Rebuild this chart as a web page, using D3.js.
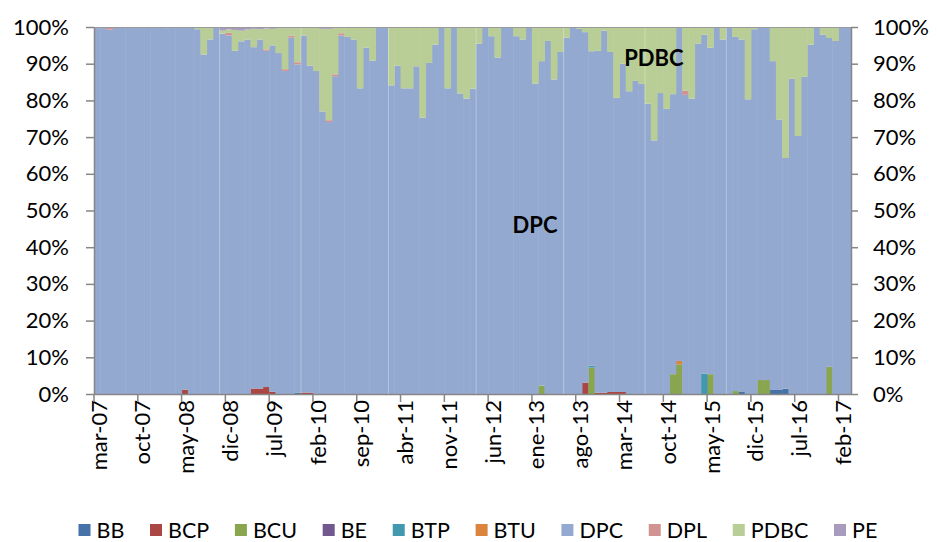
<!DOCTYPE html>
<html>
<head>
<meta charset="utf-8">
<script src="https://cdn.jsdelivr.net/npm/d3@7"></script>
<style>
body { margin: 0; background: #fff; }
text { font-family: Lato, 'Open Sans', sans-serif; fill: #000; }
</style>
</head>
<body>
<div id="chart"></div>
<script>
// monthly categories mar-07 .. mar-17
var monthNames = ['ene', 'feb', 'mar', 'abr', 'may', 'jun', 'jul', 'ago', 'sep', 'oct', 'nov', 'dic'];
var months = [];
for (var k = 0; k < 121; k++) {
    var mm = (2 + k) % 12,
        yy = 7 + Math.floor((2 + k) / 12);
    months.push(monthNames[mm] + '-' + (yy < 10 ? '0' + yy : yy));
}

var keys = ['BB', 'BCP', 'BCU', 'BE', 'BTP', 'BTU', 'DPC', 'DPL', 'PDBC', 'PE'];
var colors = ['#4572A7', '#AA4643', '#89A54E', '#71588F', '#4198AF', '#DB843D', '#94A9D0', '#D19392', '#B9CD96', '#A99BBD'];

// share of each series (%), one value per month
var BB = [
    0, 0, 0, 0, 0, 0, 0, 0, 0, 0,
    0, 0, 0, 0, 0, 0, 0, 0, 0, 0,
    0, 0, 0, 0, 0, 0, 0, 0, 0, 0,
    0, 0, 0.4, 0, 0, 0, 0, 0, 0, 0,
    0, 0, 0, 0, 0, 0, 0, 0, 0, 0,
    0, 0, 0, 0, 0, 0, 0, 0, 0, 0,
    0, 0, 0, 0, 0, 0, 0, 0, 0, 0,
    0, 0, 0, 0, 0, 0, 0, 0, 0, 0,
    0, 0, 0, 0, 0, 0, 0, 0, 0, 0,
    0, 0, 0, 0, 0, 0, 0, 0, 0, 0,
    0, 0, 0, 0.55, 0, 0, 0, 0, 1.1, 1.1,
    1.45, 0, 0, 0, 0, 0, 0, 0, 0, 0,
    0
];
var BCP = [
    0, 0, 0, 0, 0, 0, 0, 0, 0, 0,
    0, 0, 0, 0, 1.2, 0, 0, 0, 0, 0,
    0, 0, 0, 0, 0, 1.5, 1.5, 1.9, 0.6, 0,
    0, 0, 0, 0.4, 0.4, 0, 0, 0, 0, 0,
    0, 0, 0, 0, 0, 0, 0, 0, 0, 0,
    0, 0, 0, 0, 0, 0, 0, 0, 0, 0,
    0, 0, 0, 0, 0, 0, 0, 0, 0, 0,
    0, 0, 0, 0, 0, 0, 0, 0, 3.1, 0,
    0.35, 0.35, 0.55, 0.55, 0.55, 0, 0, 0, 0, 0,
    0, 0, 0, 0, 0, 0, 0, 0, 0, 0,
    0, 0, 0, 0, 0, 0, 0, 0, 0, 0,
    0, 0, 0, 0, 0, 0, 0, 0, 0, 0,
    0
];
var BCU = [
    0, 0, 0, 0, 0, 0, 0, 0, 0, 0,
    0, 0, 0, 0, 0, 0, 0, 0, 0, 0,
    0, 0, 0, 0, 0, 0, 0, 0, 0, 0,
    0, 0, 0, 0, 0, 0, 0, 0, 0, 0,
    0, 0, 0, 0, 0, 0, 0, 0, 0, 0,
    0, 0, 0, 0, 0, 0, 0, 0, 0, 0,
    0, 0, 0, 0, 0, 0, 0, 0, 0, 0,
    0, 2.3, 0, 0, 0, 0, 0, 0, 0, 7.2,
    0, 0, 0, 0, 0, 0, 0, 0, 0, 0,
    0, 0, 5.4, 8.1, 0, 0, 0, 0, 5.4, 0,
    0, 0, 0.8, 0, 0, 0, 3.8, 3.8, 0, 0,
    0, 0, 0, 0, 0, 0, 0, 7.4, 0, 0,
    0
];
var BE = [
    0, 0, 0, 0, 0, 0, 0, 0, 0, 0,
    0, 0, 0, 0, 0, 0, 0, 0, 0, 0,
    0, 0, 0, 0, 0, 0, 0, 0, 0, 0,
    0, 0, 0, 0, 0, 0, 0, 0, 0, 0,
    0, 0, 0, 0, 0, 0, 0, 0, 0, 0,
    0, 0, 0, 0, 0, 0, 0, 0, 0, 0,
    0, 0, 0, 0, 0, 0, 0, 0, 0, 0,
    0, 0, 0, 0, 0, 0, 0, 0, 0, 0,
    0, 0, 0, 0, 0, 0, 0, 0, 0, 0,
    0, 0, 0, 0, 0, 0, 0, 0, 0, 0,
    0, 0, 0, 0, 0, 0, 0, 0, 0, 0,
    0, 0, 0, 0, 0, 0, 0, 0, 0, 0,
    0
];
var BTP = [
    0, 0, 0, 0, 0, 0, 0, 0, 0, 0,
    0, 0, 0, 0, 0, 0, 0, 0, 0, 0,
    0, 0, 0, 0, 0, 0, 0, 0, 0, 0,
    0, 0, 0, 0, 0, 0, 0, 0, 0, 0,
    0, 0, 0, 0, 0, 0, 0, 0, 0, 0,
    0, 0, 0, 0, 0, 0, 0, 0, 0, 0,
    0, 0, 0, 0, 0, 0, 0, 0, 0, 0,
    0, 0, 0, 0, 0, 0, 0, 0, 0, 0.5,
    0, 0, 0, 0, 0, 0, 0, 0, 0, 0,
    0, 0, 0, 0, 0, 0, 0, 5.6, 0, 0,
    0, 0, 0, 0, 0, 0, 0, 0, 0, 0,
    0, 0, 0, 0, 0, 0, 0, 0, 0, 0,
    0
];
var BTU = [
    0, 0, 0, 0, 0, 0, 0, 0, 0, 0,
    0, 0, 0, 0, 0, 0, 0, 0, 0, 0,
    0, 0, 0, 0, 0, 0, 0, 0, 0, 0,
    0, 0, 0, 0, 0, 0, 0, 0, 0, 0,
    0, 0, 0, 0, 0, 0, 0, 0, 0, 0,
    0, 0, 0, 0, 0, 0, 0, 0, 0, 0,
    0, 0, 0, 0, 0, 0, 0, 0, 0, 0,
    0, 0, 0, 0, 0, 0, 0, 0, 0, 0,
    0, 0, 0, 0, 0, 0, 0, 0, 0, 0,
    0, 0, 0, 0.9, 0, 0, 0, 0, 0, 0,
    0, 0, 0, 0, 0, 0, 0, 0, 0, 0,
    0, 0, 0, 0, 0, 0, 0, 0, 0, 0,
    0
];
var DPC = [
    99.7, 99.7, 99.3, 100, 100, 100, 100, 100, 100, 100,
    100, 99.7, 100, 100, 98.8, 100, 99.4, 92.5, 96.6, 100,
    98.2, 97.7, 93.5, 96.1, 96.6, 93.0, 95.1, 91.6, 94.4, 92.9,
    88.0, 97.1, 89.4, 97.3, 89.1, 88.0, 77.0, 74.1, 86.6, 97.7,
    97.3, 96.6, 83.3, 94.4, 90.8, 100, 100, 84.1, 89.5, 83.3,
    83.3, 89.3, 75.3, 90.2, 95.2, 100, 83.3, 100, 81.9, 80.5,
    83.2, 95.5, 100, 97.5, 91.7, 100, 100, 97.5, 96.6, 100,
    84.6, 88.4, 96.2, 85.7, 93.2, 97.1, 100, 99.5, 95.5, 85.7,
    93.15, 98.65, 92.65, 80.15, 89.45, 82.5, 85.3, 84.5, 79.1, 69.1,
    82.0, 77.7, 76.3, 91.0, 81.5, 80.5, 95.5, 92.3, 89.0, 100,
    96.6, 100, 96.5, 96.05, 80.3, 99.4, 96.2, 96.2, 89.6, 73.7,
    62.85, 85.9, 70.3, 86.4, 95.2, 100, 97.9, 89.6, 96.2, 100,
    100
];
var DPL = [
    0, 0, 0.7, 0, 0, 0, 0, 0, 0, 0,
    0, 0.3, 0, 0, 0, 0, 0, 0, 0, 0,
    0, 0.7, 0, 0, 0, 0, 0, 0.4, 0, 0,
    0.5, 0.5, 0.6, 0, 0, 0, 0, 0.5, 0.5, 0.6,
    0, 0, 0, 0, 0, 0, 0, 0, 0, 0,
    0, 0, 0, 0, 0, 0, 0, 0, 0, 0,
    0, 0, 0, 0, 0, 0, 0, 0, 0, 0,
    0, 0, 0, 0, 0, 0, 0, 0, 0, 0,
    0, 0, 0, 0, 0, 0, 0, 0, 0, 0,
    0, 0, 0, 0, 1.1, 0, 0, 0, 0, 0,
    0, 0, 0, 0, 0, 0, 0, 0, 0, 0,
    0, 0, 0, 0, 0, 0, 0, 0, 0, 0,
    0
];
var PDBC = [
    0, 0, 0, 0, 0, 0, 0, 0, 0, 0,
    0, 0, 0, 0, 0, 0, 0.6, 7.5, 3.4, 0,
    0.8, 1.0, 5.7, 2.9, 2.7, 5.0, 2.8, 5.7, 4.5, 6.8,
    11.2, 2.1, 9.3, 2.3, 10.5, 12.0, 22.5, 24.9, 12.9, 1.7,
    2.7, 3.4, 16.7, 5.6, 9.2, 0, 0, 15.9, 10.5, 16.7,
    16.7, 10.7, 24.7, 9.8, 4.8, 0, 16.7, 0, 18.1, 19.5,
    16.8, 4.5, 0, 2.5, 8.3, 0, 0, 2.5, 3.4, 0,
    15.4, 9.3, 3.8, 14.3, 6.8, 2.9, 0, 0.5, 1.4, 6.6,
    6.5, 1.0, 6.8, 19.3, 10.0, 17.5, 14.7, 15.5, 20.9, 30.9,
    18.0, 22.3, 18.3, 0, 17.4, 19.5, 4.5, 2.1, 5.6, 0,
    3.4, 0, 2.7, 3.4, 19.7, 0.6, 0, 0, 9.3, 25.2,
    35.7, 14.1, 29.7, 13.6, 4.8, 0, 2.1, 3.0, 3.8, 0,
    0
];
var PE = [
    0.3, 0.3, 0, 0, 0, 0, 0, 0, 0, 0,
    0, 0, 0, 0, 0, 0, 0, 0, 0, 0,
    1.0, 0.6, 0.8, 1.0, 0.7, 0.5, 0.6, 0.4, 0.5, 0.3,
    0.3, 0.3, 0.3, 0, 0, 0, 0.5, 0.5, 0, 0,
    0, 0, 0, 0, 0, 0, 0, 0, 0, 0,
    0, 0, 0, 0, 0, 0, 0, 0, 0, 0,
    0, 0, 0, 0, 0, 0, 0, 0, 0, 0,
    0, 0, 0, 0, 0, 0, 0, 0, 0, 0,
    0, 0, 0, 0, 0, 0, 0, 0, 0, 0,
    0, 0, 0, 0, 0, 0, 0, 0, 0, 0,
    0, 0, 0, 0, 0, 0, 0, 0, 0, 0,
    0, 0, 0, 0, 0, 0, 0, 0, 0, 0,
    0
];

var yTicks = [0, 0.1, 0.2, 0.3, 0.4, 0.5, 0.6, 0.7, 0.8, 0.9, 1];
// months where a thin light seam shows between the bars
var seamMonths = ['nov-08', 'dic-09', 'feb-11', 'abr-12', 'jun-13', 'jul-14', 'ago-15'];

var seriesData = [BB, BCP, BCU, BE, BTP, BTU, DPC, DPL, PDBC, PE];

var svgWidth = 937,
    svgHeight = 542,
    plotLeft = 94,
    plotRight = 851,
    plotTop = 27,
    plotBottom = 394;

var rows = months.map(function(m, i) {
    var r = { month: m };
    keys.forEach(function(k, j) { r[k] = seriesData[j][i]; });
    return r;
});

var stacked = d3.stack().keys(keys).offset(d3.stackOffsetExpand)(rows);

var x = d3.scaleBand().domain(months).range([plotLeft, plotRight]).padding(0),
    y = d3.scaleLinear().domain([0, 1]).range([plotBottom, plotTop]),
    color = d3.scaleOrdinal().domain(keys).range(colors);

var svg = d3.select('#chart')
    .append('svg')
    .attr('width', svgWidth)
    .attr('height', svgHeight);

// bars
svg.append('g')
    .selectAll('g')
    .data(stacked)
    .enter()
    .append('g')
    .attr('fill', function(d) { return color(d.key); })
    .selectAll('rect')
    .data(function(d) { return d.filter(function(p) { return p[1] - p[0] > 0; }); })
    .enter()
    .append('rect')
    .attr('x', function(d) { return x(d.data.month); })
    .attr('width', x.bandwidth() + 0.5)
    .attr('y', function(d) { return y(d[1]); })
    .attr('height', function(d) { return y(d[0]) - y(d[1]); });

// light seams
svg.append('g')
    .selectAll('line')
    .data(seamMonths)
    .enter()
    .append('line')
    .attr('x1', function(d) { return x(d) + 0.5; })
    .attr('x2', function(d) { return x(d) + 0.5; })
    .attr('y1', plotTop)
    .attr('y2', plotBottom)
    .attr('stroke', '#fff')
    .attr('stroke-opacity', 0.3)
    .attr('stroke-width', 1);

// top border
svg.append('line')
    .attr('x1', plotLeft).attr('x2', plotRight)
    .attr('y1', plotTop + 0.5).attr('y2', plotTop + 0.5)
    .attr('stroke', '#9a9a9a');

// y axes
var pct = d3.format('.0%');

var yLeft = svg.append('g')
    .attr('transform', 'translate(' + plotLeft + ',0)')
    .call(d3.axisLeft(y).tickValues(yTicks).tickFormat(pct).tickSize(8).tickSizeOuter(0).tickPadding(17));

var yRight = svg.append('g')
    .attr('transform', 'translate(' + plotRight + ',0)')
    .call(d3.axisRight(y).tickValues(yTicks).tickFormat(pct).tickSize(7).tickSizeOuter(0).tickPadding(15));

[yLeft, yRight].forEach(function(a) {
    a.selectAll('path, line').attr('stroke', '#868686').attr('stroke-width', 1.5);
    a.selectAll('text').style('font-size', '22px').style('font-family', 'Lato, sans-serif');
});

// x axis
var labelled = months.filter(function(d, i) { return i % 7 === 0; });

var xAxis = svg.append('g')
    .attr('transform', 'translate(0,' + plotBottom + ')')
    .call(d3.axisBottom(x).tickValues(labelled).tickSize(0).tickSizeOuter(0).tickPadding(0));

xAxis.select('path').attr('stroke', '#868686').attr('stroke-width', 1.5);

xAxis.selectAll('.tick text')
    .style('font-size', '22px')
    .style('font-family', 'Lato, sans-serif')
    .attr('text-anchor', 'end')
    .attr('transform', 'translate(1.5,6) rotate(-90)')
    .attr('x', 0)
    .attr('y', 0)
    .attr('dy', '0.36em');

xAxis.selectAll('.tickmark')
    .data(labelled)
    .enter()
    .append('line')
    .attr('class', 'tickmark')
    .attr('x1', function(d) { return x(d); })
    .attr('x2', function(d) { return x(d); })
    .attr('y1', 0)
    .attr('y2', 8)
    .attr('stroke', '#868686')
    .attr('stroke-width', 1.5);

// in-chart labels
svg.append('text')
    .attr('x', x('ene-13') + x.bandwidth() / 2)
    .attr('y', y(0.46))
    .attr('dy', '0.36em')
    .attr('text-anchor', 'middle')
    .style('font-size', '22px')
    .style('font-weight', 'bold')
    .text('DPC');

svg.append('text')
    .attr('x', x('ago-14') + x.bandwidth() / 2)
    .attr('y', y(0.915))
    .attr('dy', '0.36em')
    .attr('text-anchor', 'middle')
    .style('font-size', '22px')
    .style('font-weight', 'bold')
    .text('PDBC');

// legend
var legend = svg.append('g').attr('transform', 'translate(0,530)');

var items = legend.selectAll('g')
    .data(keys)
    .enter()
    .append('g');

items.append('rect')
    .attr('width', 12)
    .attr('height', 12)
    .attr('y', -6)
    .attr('fill', function(d) { return color(d); });

items.append('text')
    .attr('x', 18)
    .attr('dy', '0.36em')
    .style('font-size', '21.5px')
    .text(function(d) { return d; });

var widths = [];
items.selectAll('text').each(function() { widths.push(18 + this.getComputedTextLength()); });
var span = 834 - 78.5,
    used = d3.sum(widths.slice(0, keys.length - 1)),
    gap = (span - used) / (keys.length - 1),
    pos = 78.5;

items.attr('transform', function(d, i) {
    var t = 'translate(' + pos + ',0)';
    pos += widths[i] + gap;
    return t;
});
</script>
</body>
</html>
